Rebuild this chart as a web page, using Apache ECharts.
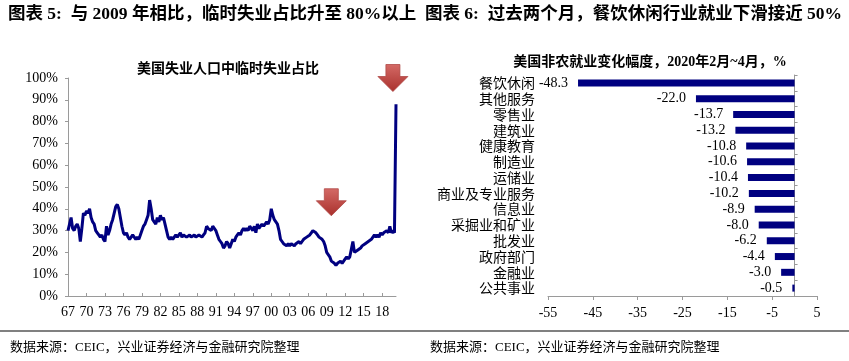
<!DOCTYPE html>
<html><head><meta charset="utf-8">
<script src="https://cdn.jsdelivr.net/npm/echarts@6/dist/echarts.min.js"></script>
<style>html,body{margin:0;padding:0;background:#fff}#c{width:849px;height:361px}</style>
</head><body><div id="c"></div><script>
// ---- Left chart: share of temporary layoffs among the unemployed (quarterly, 1967Q1 .. 2020Q2) ----
const startYear = 1967;
const tempShare = [
  30,33,36,31, 30,32,33,31, 25,31,38,37, 39,38,40,36, 34,33,30,29, // 1967-1971
  28,27,28,26, 25,32,28,30, 33,35,38,41, 42,40,36,32, 29,28,29,27, // 1972-1976
  26,27,28,27, 26,27,26,28, 30,32,33,35, 37,44,40,35, 34,33,36,34, // 1977-1981
  37,35,36,33, 30,27,26,27, 26,27,28,27, 28,29,27,28, 28,27,27,28, // 1982-1986
  27,27,28,27, 27,28,28,27, 28,29,32,31, 31,30,32,31, 30,28,26,25, // 1987-1991
  24,22,23,25, 24,22,24,26, 25,27,28,29, 28,30,31,30, 31,30,32,31, // 1992-1996
  30,32,29,33, 31,32,33,32, 33,34,33,35, 40,37,35,34, 33,30,26,25, // 1997-2001
  24,24,23,24, 23,24,24,23, 24,24,25,24, 25,26,26,27, 27,28,29,30, // 2002-2006
  30,29,28,27, 27,26,25,23, 20,19,18,16, 16,15,14,15, 15,16,15,16, // 2007-2011
  17,18,17,18, 18,25,20,20, 21,21,22,23, 23,24,24,25, 25,26,27,28, // 2012-2016
  27,28,27,29, 28,29,29,30, 29,32,29,30, 29,88                      // 2017-2020
];
const periods = [];
for (let i = 0; i < tempShare.length; i++) {
  periods.push((startYear + Math.floor(i / 4)) + '-' + (i % 4 + 1));
}
const arrowMarks = [['2009-4', 43], ['2019-4', 100]];

// ---- Right chart: change in US nonfarm employment, Feb-Apr 2020, % ----
const sectors = ['餐饮休闲','其他服务','零售业','建筑业','健康教育','制造业','运储业','商业及专业服务','信息业','采掘业和矿业','批发业','政府部门','金融业','公共事业'];
const sectorChange = [-48.3,-22.0,-13.7,-13.2,-10.8,-10.6,-10.4,-10.2,-8.9,-8.0,-6.2,-4.4,-3.0,-0.5];

const SERIF = "'Liberation Serif','Noto Sans CJK SC',serif";
const CJK = "'Noto Sans CJK SC','Liberation Serif',sans-serif";
const axisGray = '#9a9a9a';
const navy = '#000080';
const arrowPath = 'path://M8,0 L22,0 L22,12 L30,12 L15,27 L0,12 L8,12 Z';

const chart = echarts.init(document.getElementById('c'), null, {renderer: 'canvas'});
chart.setOption({
  animation: false,
  backgroundColor: '#fff',
  grid: [
    {left: 68, top: 78, width: 328, height: 218},
    {left: 548, top: 75, width: 269, height: 221}
  ],
  xAxis: [
    {
      type: 'category', gridIndex: 0, data: periods, boundaryGap: false,
      axisLine: {lineStyle: {color: axisGray, width: 1}},
      axisTick: {show: true, inside: true, length: 3, interval: 11, lineStyle: {color: axisGray}},
      axisLabel: {interval: 11, margin: 9, fontSize: 14, fontFamily: SERIF, color: '#000',
        formatter: v => v.slice(2, 4)},
      splitLine: {show: false}
    },
    {
      type: 'value', gridIndex: 1, min: -55, max: 5, interval: 10,
      axisLine: {show: true, onZero: false, lineStyle: {color: axisGray}},
      axisTick: {show: true, length: 4, lineStyle: {color: axisGray}},
      axisLabel: {margin: 10, fontSize: 14, fontFamily: SERIF, color: '#000'},
      splitLine: {show: false}
    }
  ],
  yAxis: [
    {
      type: 'value', gridIndex: 0, min: 0, max: 100, interval: 10,
      axisLine: {show: true, lineStyle: {color: axisGray}},
      axisTick: {show: true, length: 3, lineStyle: {color: axisGray}},
      axisLabel: {margin: 10, fontSize: 14, fontFamily: SERIF, color: '#000', formatter: '{value}%'},
      splitLine: {show: false}
    },
    {
      type: 'category', gridIndex: 1, data: sectors, inverse: true, position: 'left',
      axisLine: {show: false, onZero: false},
      axisTick: {show: false},
      axisLabel: {interval: 0, margin: 13, fontSize: 14, fontFamily: CJK, color: '#000'},
      splitLine: {show: false}
    },
    {
      type: 'category', gridIndex: 1, data: sectors, inverse: true, position: 'right',
      axisLine: {show: true, onZero: true, lineStyle: {color: axisGray}},
      axisTick: {show: true, interval: 0, length: 3, lineStyle: {color: axisGray}},
      axisLabel: {show: false, interval: 0},
      splitLine: {show: false}
    }
  ],
  series: [
    {
      type: 'line', xAxisIndex: 0, yAxisIndex: 0, data: tempShare,
      symbol: 'none', lineStyle: {color: navy, width: 3}, itemStyle: {color: navy},
      markPoint: {
        symbol: arrowPath, symbolSize: [30, 27],
        itemStyle: {
          color: new echarts.graphic.LinearGradient(0, 0, 0, 1, [
            {offset: 0, color: '#d46a66'}, {offset: 1, color: '#a9302c'}]),
          borderColor: '#b04a47', borderWidth: 0.8
        },
        label: {show: false},
        data: arrowMarks.map(c => ({coord: c}))
      }
    },
    {
      type: 'bar', xAxisIndex: 1, yAxisIndex: 1, data: sectorChange, barWidth: 7,
      itemStyle: {color: navy},
      label: {show: true, position: 'left', distance: 10, fontSize: 14, fontFamily: SERIF, color: '#000',
        formatter: p => p.value.toFixed(1)}
    }
  ],
  graphic: [
    {type: 'text', left: 8, top: 6, style: {text: '图表 5:  与 2009 年相比，临时失业占比升至 80%以上', font: "bold 17.5px " + SERIF, fill: '#000'}},
    {type: 'text', left: 425, top: 6, style: {text: '图表 6:  过去两个月，餐饮休闲行业就业下滑接近 50%', font: "bold 17.5px " + SERIF, fill: '#000'}},
    {type: 'text', x: 228, y: 68, style: {text: '美国失业人口中临时失业占比', font: "bold 14px " + CJK, fill: '#000', textAlign: 'center', textVerticalAlign: 'middle'}},
    {type: 'text', x: 650, y: 62, style: {text: '美国非农就业变化幅度，2020年2月~4月，%', font: "bold 14px " + SERIF, fill: '#000', textAlign: 'center', textVerticalAlign: 'middle'}},
    {type: 'line', shape: {x1: 0, y1: 331, x2: 849, y2: 331}, style: {stroke: '#808080', lineWidth: 2}},
    {type: 'text', x: 10, y: 348, style: {text: '数据来源：CEIC，兴业证券经济与金融研究院整理', font: "13px " + SERIF, fill: '#000', textVerticalAlign: 'middle'}},
    {type: 'text', x: 430, y: 348, style: {text: '数据来源：CEIC，兴业证券经济与金融研究院整理', font: "13px " + SERIF, fill: '#000', textVerticalAlign: 'middle'}}
  ]
});
</script></body></html>
